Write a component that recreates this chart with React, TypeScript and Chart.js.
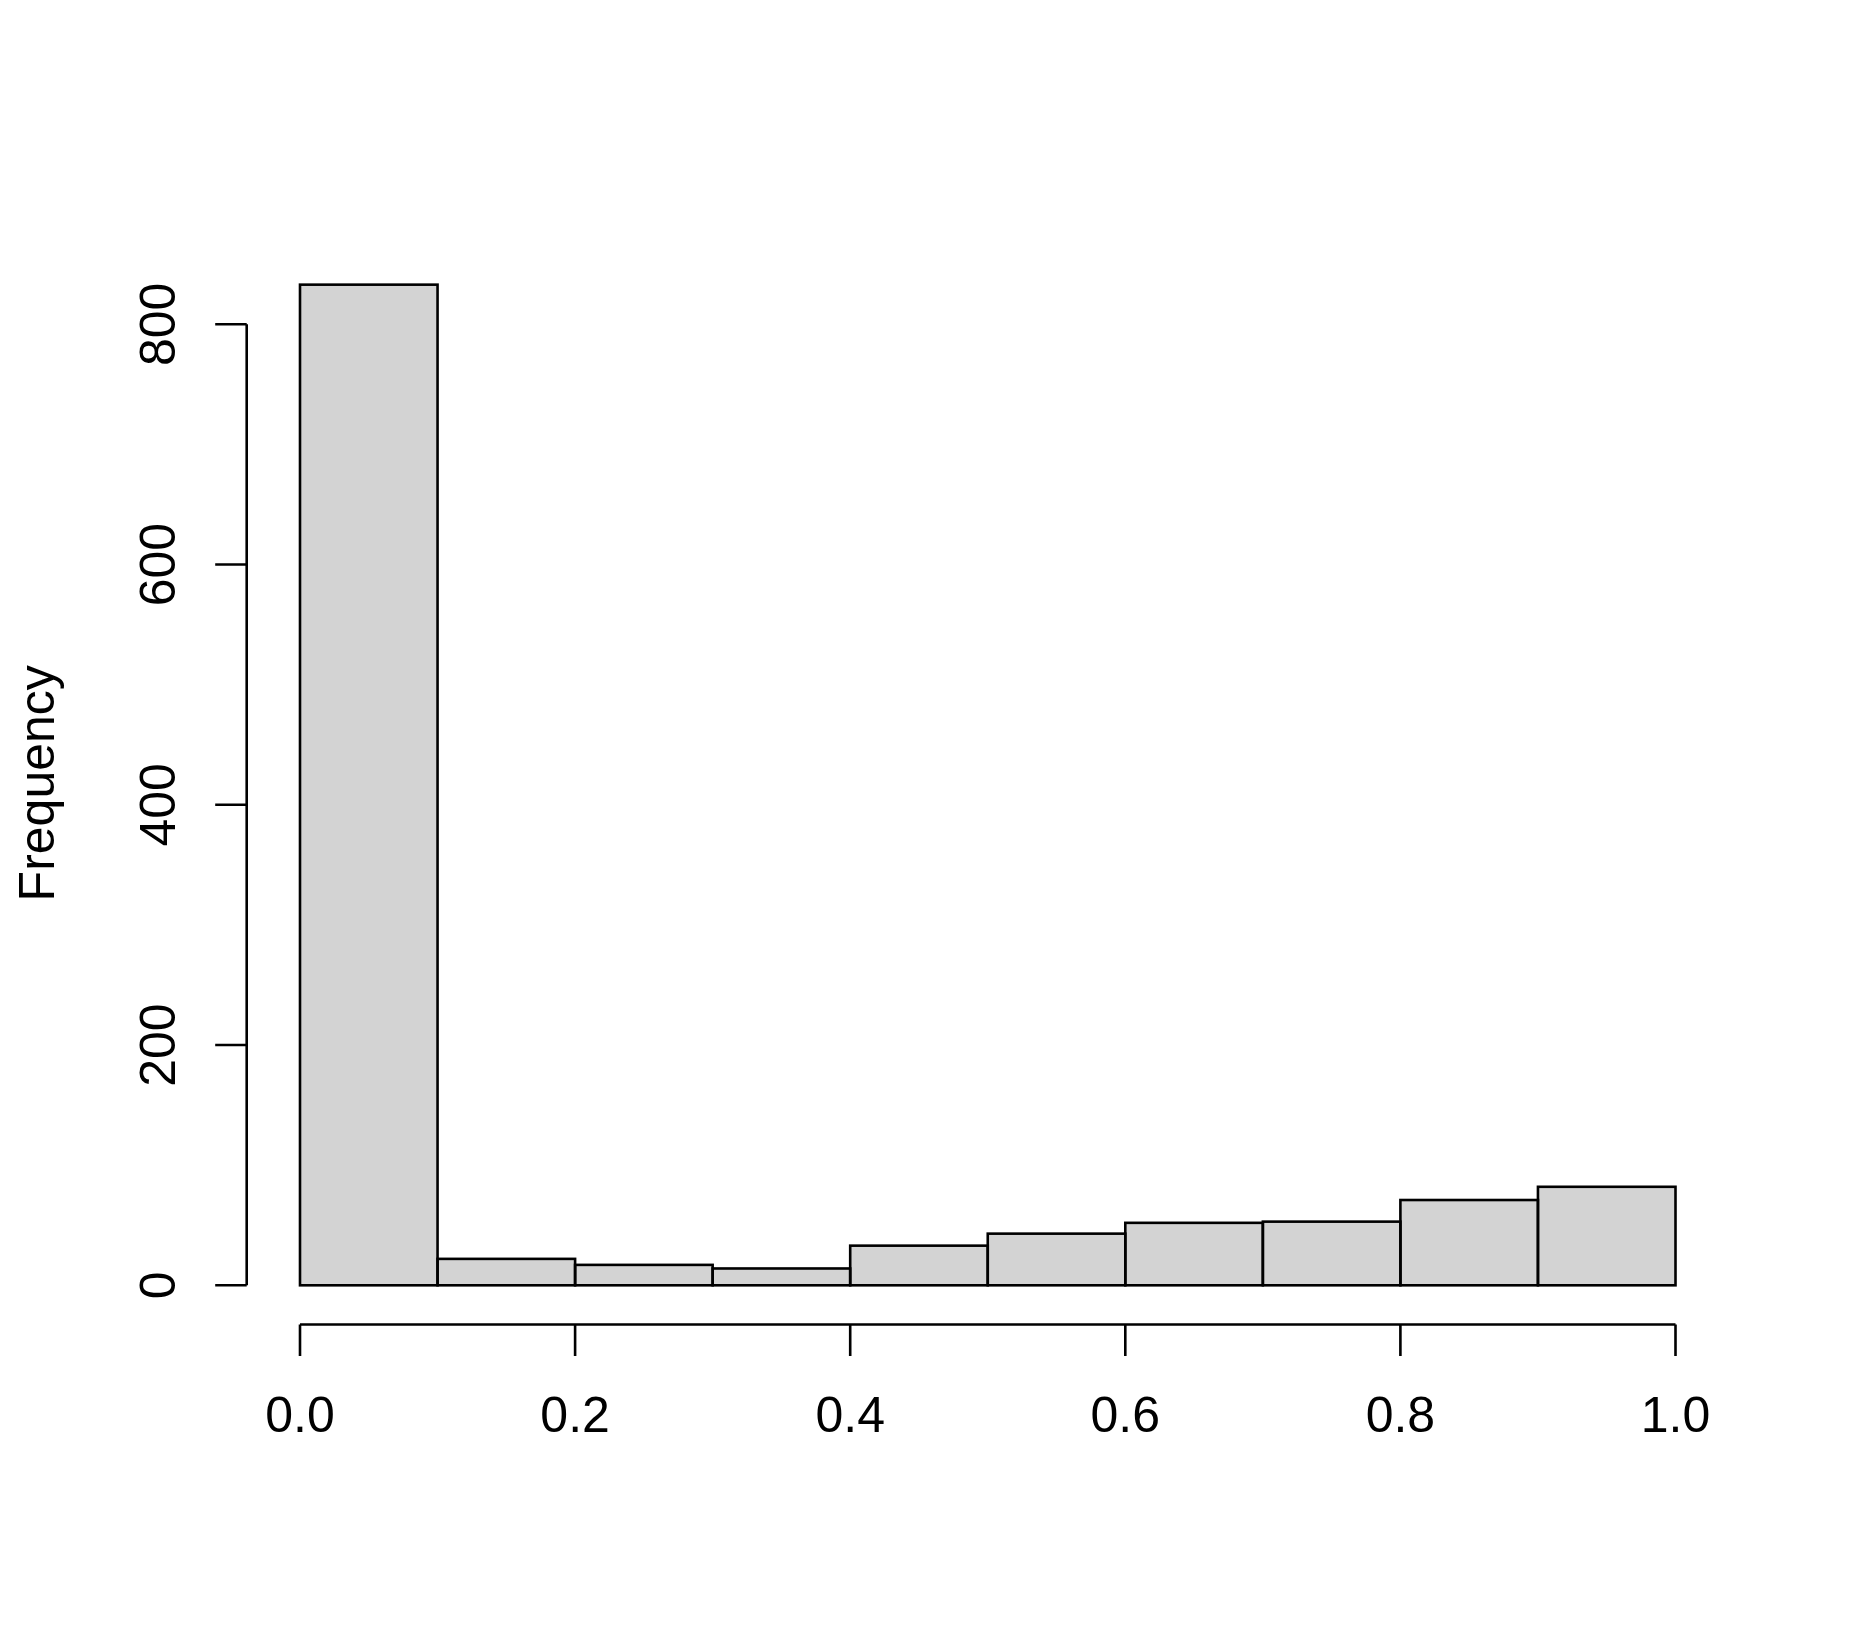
import React, { useEffect, useRef } from "react";
import { Chart, registerables } from "chart.js";

Chart.register(...registerables);

const binStarts = [0.0, 0.1, 0.2, 0.3, 0.4, 0.5, 0.6, 0.7, 0.8, 0.9];
const binWidth = 0.1;
const counts = [833, 22, 17, 14, 33, 43, 52, 53, 71, 82];
const xTicks = [0, 0.2, 0.4, 0.6, 0.8, 1.0];
const xTickLabels = ["0.0", "0.2", "0.4", "0.6", "0.8", "1.0"];
const yTicks = [0, 200, 400, 600, 800];
const yTickLabels = ["0", "200", "400", "600", "800"];
const yTitle = "Frequency";

const FONT = '50px "Liberation Sans", Arial, sans-serif';
const LW = 2.6;

const rAxesPlugin = {
  id: "rAxes",
  afterDatasetsDraw(chart: any) {
    const ctx = chart.ctx;
    const xs = chart.scales.x;
    const ys = chart.scales.y;
    ctx.save();
    ctx.strokeStyle = "#000";
    ctx.lineWidth = LW;
    ctx.lineCap = "butt";
    // bar outlines (centered on edges, like R)
    const meta = chart.getDatasetMeta(0);
    meta.data.forEach((el: any) => {
      const left = el.x - el.width / 2;
      const top = Math.min(el.y, el.base);
      const h = Math.abs(el.base - el.y);
      ctx.strokeRect(left, top, el.width, h);
    });
    // y axis
    const yAxisX = 246.7;
    const tickLen = 31.5;
    const y0 = ys.getPixelForValue(yTicks[0]);
    const y1 = ys.getPixelForValue(yTicks[yTicks.length - 1]);
    ctx.beginPath();
    ctx.moveTo(yAxisX, y0);
    ctx.lineTo(yAxisX, y1);
    yTicks.forEach((v) => {
      const py = ys.getPixelForValue(v);
      ctx.moveTo(yAxisX, py);
      ctx.lineTo(yAxisX - tickLen, py);
    });
    ctx.stroke();
    // x axis
    const xAxisY = 1324.5;
    const x0 = xs.getPixelForValue(xTicks[0]);
    const x1 = xs.getPixelForValue(xTicks[xTicks.length - 1]);
    ctx.beginPath();
    ctx.moveTo(x0, xAxisY);
    ctx.lineTo(x1, xAxisY);
    xTicks.forEach((v) => {
      const px = xs.getPixelForValue(v);
      ctx.moveTo(px, xAxisY);
      ctx.lineTo(px, xAxisY + tickLen);
    });
    ctx.stroke();
    // labels
    ctx.fillStyle = "#000";
    ctx.font = FONT;
    ctx.textAlign = "center";
    ctx.textBaseline = "alphabetic";
    xTicks.forEach((v, i) => {
      ctx.fillText(xTickLabels[i], xs.getPixelForValue(v), 1432.3);
    });
    yTicks.forEach((v, i) => {
      const py = ys.getPixelForValue(v);
      ctx.save();
      ctx.translate(175, py);
      ctx.rotate(-Math.PI / 2);
      ctx.fillText(yTickLabels[i], 0, 0);
      ctx.restore();
    });
    ctx.save();
    ctx.translate(54, 783.3);
    ctx.rotate(-Math.PI / 2);
    ctx.fillText(yTitle, 0, 0);
    ctx.restore();
    ctx.restore();
  },
};

export default function App() {
  const ref = useRef<HTMLCanvasElement>(null);
  useEffect(() => {
    if (!ref.current) return;
    const data = counts.map((c, i) => ({ x: binStarts[i] + binWidth / 2, y: c }));
    const yMax = 866.32;
    const bottom = 1285.3;
    const pxPerUnit = (1285.3 - 324.3) / 800;
    const top = bottom - yMax * pxPerUnit;
    const chart = new Chart(ref.current, {
      type: "bar",
      data: {
        datasets: [
          {
            data,
            backgroundColor: "#d3d3d3",
            borderWidth: 0,
            barPercentage: 1,
            categoryPercentage: 1,
          },
        ],
      },
      options: {
        responsive: false,
        animation: false,
        events: [],
        layout: {
          padding: { left: 300, right: 1856 - 1675.5, top: top, bottom: 1631 - bottom },
        },
        plugins: { legend: { display: false }, title: { display: false }, tooltip: { enabled: false } },
        scales: {
          x: { type: "linear", min: 0, max: 1, offset: false, display: false, ticks: { stepSize: 0.1 } },
          y: { type: "linear", min: 0, max: yMax, display: false },
        },
      },
      plugins: [rAxesPlugin],
    });
    return () => chart.destroy();
  }, []);
  return (
    <div style={{ position: "absolute", left: 0, top: 0, width: 1856, height: 1631, background: "#fff" }}>
      <canvas ref={ref} width={1856} height={1631} style={{ width: 1856, height: 1631 }} />
    </div>
  );
}
